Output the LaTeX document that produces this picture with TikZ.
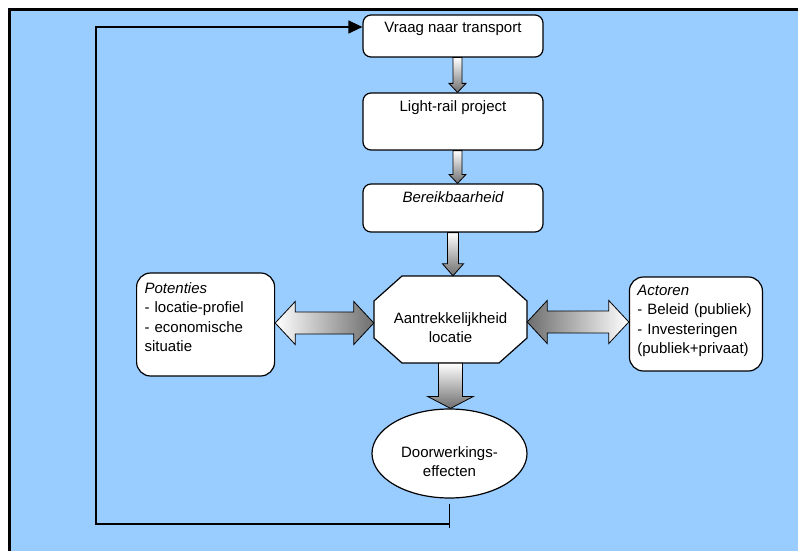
\documentclass[tikz,border=0pt]{standalone}
\usepackage{fontspec}
\setmainfont{Liberation Sans}
\usetikzlibrary{positioning, calc, shapes.geometric, arrows.meta}

\definecolor{achtergrond}{RGB}{153,204,255}
\definecolor{pijlgrijs}{RGB}{110,110,110}

\tikzset{
  stap/.style={draw, fill=white, line width=1.2pt, rounded corners=8pt, minimum width=180pt, inner sep=3pt},
  kader/.style={draw, fill=white, line width=1.2pt, rounded corners=14pt, align=left, inner xsep=8pt, inner ysep=3pt},
  pijlrand/.style={draw, line width=0.8pt},
  omlaag/.style={top color=white, bottom color=pijlgrijs},
  naarrechts/.style={left color=white, right color=pijlgrijs},
  naarlinks/.style={left color=pijlgrijs, right color=white},
  lijn/.style={line width=1.2pt}
}

% flèche pleine vers le bas : style, départ, pointe, demi-tige, demi-tête, longueur tête
\newcommand{\blokpijl}[6]{%
  \path[pijlrand,#1] let \p1=#2, \p2=#3 in
    (\x1-#4,\y1) -- (\x1+#4,\y1) -- (\x1+#4,\y2+#6) -- (\x1+#5,\y2+#6) -- (\x1,\y2)
    -- (\x1-#5,\y2+#6) -- (\x1-#4,\y2+#6) -- cycle;}
% flèche double horizontale
\newcommand{\dubbelpijl}[6]{%
  \path[pijlrand,#1] let \p1=#2, \p2=#3 in
    (\x1,\y1) -- (\x1+#6,\y1+#5) -- (\x1+#6,\y1+#4) -- (\x2-#6,\y1+#4) -- (\x2-#6,\y1+#5)
    -- (\x2,\y1) -- (\x2-#6,\y1-#5) -- (\x2-#6,\y1-#4) -- (\x1+#6,\y1-#4) -- (\x1+#6,\y1-#5) -- cycle;}

\begin{document}
\begin{tikzpicture}[x=1pt, y=-1pt, every node/.style={font=\fontsize{15pt}{19.5pt}\selectfont}]

    \useasboundingbox (0,0) rectangle (798,551);
    % Fond
    \fill[achtergrond] (9,9) rectangle (798,551);
    \draw[line width=2.7pt] (9.7,551) -- (9.7,9.7) -- (798,9.7);

    % Définitions des étapes
    \node[stap, text height=15pt, text depth=21pt] (vraag) at (453,36) {Vraag naar transport};
    \node[stap, text height=15pt, text depth=36pt, below=34.8pt of vraag] (rail) {Light-rail project};
    \node[stap, text height=15pt, text depth=27pt, below=32.8pt of rail] (bereik) {\itshape Bereikbaarheid};

    % Octogone
    \coordinate[below=86.9pt of bereik, xshift=-2.5pt] (octm);
    \draw[lijn, fill=white, shift={(octm)}] (-48.5,-43.5) -- (48.5,-43.5) -- (76.5,-18.5) -- (76.5,18.5)
          -- (48.5,43.5) -- (-48.5,43.5) -- (-76.5,18.5) -- (-76.5,-18.5) -- cycle;
    \node[minimum width=153pt, minimum height=87pt, inner sep=0pt, text height=66.5pt, text depth=20.5pt,
          align=center] (oct) at (octm) {Aantrekkelijkheid\\locatie};

    \node[ellipse, draw, fill=white, line width=1.2pt, minimum width=155pt, minimum height=89pt, inner sep=0pt,
          text height=50pt, text depth=4pt, align=center, below=45.2pt of oct, xshift=-1pt] (eff) {Doorwerkings-\\effecten};
    \node[kader, text width=122pt, text height=17pt, text depth=80pt, left=98.6pt of oct, yshift=-5pt] (pot)
          {{\itshape Potenties}\\- locatie-profiel\\- economische\\situatie};
    \node[kader, text width=117pt, text height=15pt, text depth=73pt, right=101.6pt of oct, yshift=-4.5pt] (act)
          {{\itshape Actoren}\\- Beleid (publiek)\\- Investeringen\\(publiek+privaat)};

    % Définition des flèches
    \blokpijl{omlaag}{([xshift=4.5pt]vraag.south)}{([xshift=4.5pt]rail.north)}{4.5pt}{8.5pt}{9pt}
    \blokpijl{omlaag}{([xshift=4.5pt]rail.south)}{([xshift=4.5pt]bereik.north)}{4.5pt}{8.5pt}{9pt}
    \blokpijl{omlaag}{(bereik.south)}{(oct.north)}{5.5pt}{10.5pt}{12pt}
    \blokpijl{omlaag}{(oct.south)}{(eff.north)}{12pt}{23pt}{12pt}
    \dubbelpijl{naarrechts}{([yshift=1.5pt]pot.east)}{(oct.west)}{11pt}{21.5pt}{20pt}
    \dubbelpijl{naarlinks}{([yshift=-2.5pt]oct.east)}{(act.west)}{11pt}{21.5pt}{20pt}

    % Retour
    \coordinate (hoek) at (96,524);
    \draw[lijn] ([yshift=-5pt]eff.south) -- ++(0,24);
    \draw[lijn, -{Triangle[length=14pt,width=13pt]}] (eff.south |- hoek) -- (hoek) |- ([yshift=9pt]vraag.west);

\end{tikzpicture}
\end{document}
